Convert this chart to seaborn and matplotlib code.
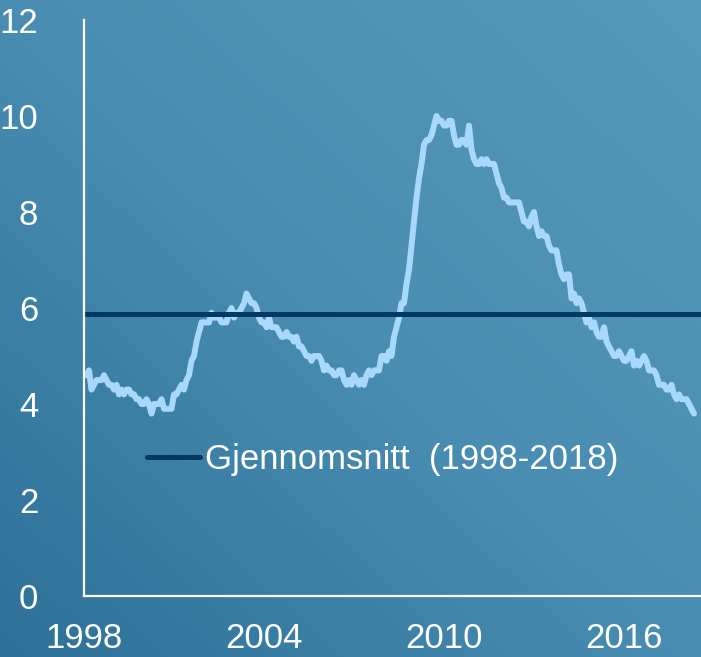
import numpy as np
import pandas as pd
import matplotlib
matplotlib.use("Agg")
import matplotlib.pyplot as plt
import seaborn as sns
from matplotlib.colors import LinearSegmentedColormap

# Monthly unemployment rate, Jan 1998 - May 2018
rate_1998 = [4.6, 4.6, 4.7, 4.3, 4.4, 4.5, 4.5, 4.5, 4.6, 4.5, 4.4, 4.4]
rate_1999 = [4.3, 4.4, 4.2, 4.3, 4.2, 4.3, 4.3, 4.2, 4.2, 4.1, 4.1, 4.0]
rate_2000 = [4.0, 4.1, 4.0, 3.8, 4.0, 4.0, 4.0, 4.1, 3.9, 3.9, 3.9, 3.9]
rate_2001 = [4.2, 4.2, 4.3, 4.4, 4.3, 4.5, 4.6, 4.9, 5.0, 5.3, 5.5, 5.7]
rate_2002 = [5.7, 5.7, 5.7, 5.9, 5.8, 5.8, 5.8, 5.7, 5.7, 5.7, 5.9, 6.0]
rate_2003 = [5.8, 5.9, 5.9, 6.0, 6.1, 6.3, 6.2, 6.1, 6.1, 6.0, 5.8, 5.7]
rate_2004 = [5.7, 5.6, 5.8, 5.6, 5.6, 5.6, 5.5, 5.4, 5.4, 5.5, 5.4, 5.4]
rate_2005 = [5.3, 5.4, 5.2, 5.2, 5.1, 5.0, 5.0, 4.9, 5.0, 5.0, 5.0, 4.9]
rate_2006 = [4.7, 4.8, 4.7, 4.7, 4.6, 4.6, 4.7, 4.7, 4.5, 4.4, 4.5, 4.4]
rate_2007 = [4.6, 4.5, 4.4, 4.5, 4.4, 4.6, 4.7, 4.6, 4.7, 4.7, 4.7, 5.0]
rate_2008 = [5.0, 4.9, 5.1, 5.0, 5.4, 5.6, 5.8, 6.1, 6.1, 6.5, 6.8, 7.3]
rate_2009 = [7.8, 8.3, 8.7, 9.0, 9.4, 9.5, 9.5, 9.6, 9.8, 10.0, 9.9, 9.9]
rate_2010 = [9.8, 9.8, 9.9, 9.9, 9.6, 9.4, 9.4, 9.5, 9.5, 9.4, 9.8, 9.3]
rate_2011 = [9.1, 9.0, 9.0, 9.1, 9.0, 9.1, 9.0, 9.0, 9.0, 8.8, 8.6, 8.5]
rate_2012 = [8.3, 8.3, 8.2, 8.2, 8.2, 8.2, 8.2, 8.0, 7.8, 7.8, 7.7, 7.9]
rate_2013 = [8.0, 7.7, 7.5, 7.6, 7.5, 7.5, 7.3, 7.2, 7.2, 7.2, 6.9, 6.7]
rate_2014 = [6.6, 6.7, 6.7, 6.2, 6.3, 6.1, 6.2, 6.1, 5.9, 5.7, 5.8, 5.6]
rate_2015 = [5.7, 5.5, 5.4, 5.4, 5.6, 5.3, 5.2, 5.1, 5.0, 5.0, 5.1, 5.0]
rate_2016 = [4.9, 4.9, 5.0, 5.1, 4.8, 4.9, 4.8, 4.9, 5.0, 4.9, 4.7, 4.7]
rate_2017 = [4.7, 4.6, 4.4, 4.4, 4.4, 4.3, 4.3, 4.4, 4.2, 4.1, 4.2, 4.1]
rate_2018 = [4.1, 4.1, 4.0, 3.9, 3.8]

average = 5.87
avg_label = "Gjennomsnitt  (1998-2018)"
x_ticks = [1998, 2004, 2010, 2016]
y_ticks = [0, 2, 4, 6, 8, 10, 12]

years = [rate_1998, rate_1999, rate_2000, rate_2001, rate_2002, rate_2003,
         rate_2004, rate_2005, rate_2006, rate_2007, rate_2008, rate_2009,
         rate_2010, rate_2011, rate_2012, rate_2013, rate_2014, rate_2015,
         rate_2016, rate_2017, rate_2018]
rows = []
for i, vals in enumerate(years):
    for m, v in enumerate(vals):
        rows.append((1998 + i + m / 12, v))
df = pd.DataFrame(rows, columns=["year", "rate"])

sns.set_style("white")
plt.rcParams["font.family"] = ["Liberation Sans", "DejaVu Sans"]

fig = plt.figure(figsize=(7.01, 6.57), dpi=100)

# gradient background
bg = fig.add_axes([0, 0, 1, 1], zorder=0)
gx, gy = np.meshgrid(np.linspace(0, 1, 300), np.linspace(0, 1, 300))
grad = (gx + gy) / 2
cmap = LinearSegmentedColormap.from_list("bg", ["#2d7098", "#4a8db2", "#5599bb"])
bg.imshow(grad, cmap=cmap, origin="lower", extent=[0, 1, 0, 1], aspect="auto")
bg.axis("off")

ax = fig.add_axes([84 / 701, 1 - 596 / 657, 660 / 701, 576 / 657], zorder=1)
ax.patch.set_alpha(0)

sns.lineplot(data=df, x="year", y="rate", ax=ax, color="#a9d8ff",
             linewidth=4.3, solid_joinstyle="round", solid_capstyle="round")
avg_line = ax.axhline(average, color="#003a62", linewidth=3.6, label=avg_label)

ax.set_xlim(1998, 2020)
ax.set_ylim(0, 12)
ax.set_xticks(x_ticks)
ax.set_yticks(y_ticks)
ax.set_xlabel("")
ax.set_ylabel("")

for s in ["top", "right"]:
    ax.spines[s].set_visible(False)
for s in ["left", "bottom"]:
    ax.spines[s].set_color("white")
    ax.spines[s].set_linewidth(1.6)

ax.tick_params(axis="y", direction="in", length=6, width=1.3, color="white",
               labelcolor="white", labelsize=25, pad=33)
ax.tick_params(axis="x", direction="in", length=7, width=1.3, color="white",
               labelcolor="white", labelsize=25, pad=19)

leg = ax.legend(handles=[avg_line], loc="center left", bbox_to_anchor=(0.048, 0.2375),
                frameon=False, fontsize=25, handlelength=1.53, handletextpad=0.14,
                labelcolor="white")

fig.savefig("out.png", dpi=100)
